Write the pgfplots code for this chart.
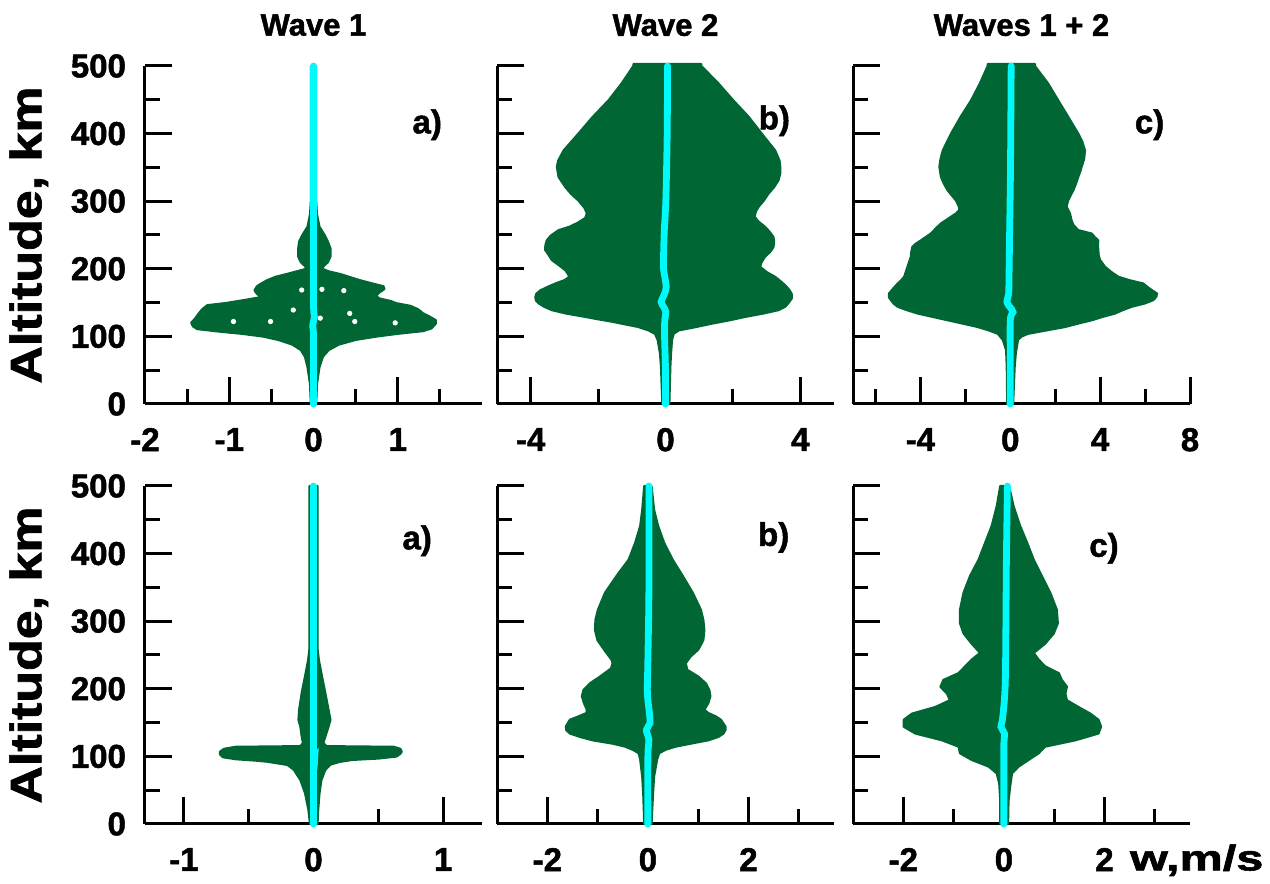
\documentclass[border=0pt]{standalone}
\usepackage{fontspec}
\setmainfont{Liberation Sans}[BoldFeatures={FakeBold=1.5}]
\usepackage{pgfplots}
\pgfplotsset{compat=1.18}
\definecolor{wgreen}{RGB}{0,102,51}
\definecolor{wcyan}{RGB}{0,250,250}
\newcommand{\tfont}{\bfseries\fontsize{15.5}{15.5}\selectfont}
\newcommand{\kfont}{\bfseries\fontsize{16.5}{16.5}\selectfont}
\newcommand{\pfont}{\bfseries\fontsize{16.5}{16.5}\selectfont}
\pgfplotsset{
 panel/.style={
  scale only axis, width=168.5pt, height=169pt, anchor=south west,
  axis x line=bottom, axis y line=left,
  axis line style={-, line width=1.5pt, black},
  every tick/.style={black, line width=1.5pt},
  tick align=inside, major tick length=13.5pt, minor tick length=7.5pt,
  ymin=0, ymax=500, ytick={0,100,200,300,400,500}, minor ytick={50,150,250,350,450},
  clip=false,
  ticklabel style={font=\kfont},
  /pgf/number format/assume math mode=true,
  xticklabel style={yshift=-8.5pt},
  yticklabel style={xshift=-6pt},
 },
 noy/.style={yticklabels={,,,,,}},
 env/.style={fill=wgreen, draw=wgreen, line width=1.2pt, line join=round},
 cline/.style={wcyan, line width=3.4pt, line cap=round, smooth},
}
\begin{document}
\begin{tikzpicture}
\useasboundingbox (0,0) rectangle (635pt,442pt);
% ---------------- Row 1, col 1 : Wave 1
\begin{axis}[panel, at={(72.5pt,240pt)}, xmin=-2, xmax=2,
  xtick={-2,-1,0,1}, minor xtick={-1.5,-0.5,0.5,1.5}]
\addplot[env] coordinates {(0.03,0) (0.04,30) (0.07,55) (0.11,70) (0.18,80) (0.3,88) (0.5,95) (0.75,100) (1.0,104) (1.3,108) (1.4,112) (1.45,119) (1.45,124) (1.38,129) (1.3,134) (1.24,140) (1.15,145) (0.98,149) (0.92,152) (0.78,156) (0.74,160) (0.78,165) (0.84,170) (0.83,174) (0.7,178) (0.55,183) (0.42,188) (0.32,192) (0.18,196) (0.1,200) (0.12,204) (0.17,210) (0.2,218) (0.2,230) (0.17,240) (0.13,250) (0.07,262) (0.04,280) (0.03,300) (0.03,500)
 (-0.03,500) (-0.03,300) (-0.04,280) (-0.07,262) (-0.13,250) (-0.17,240) (-0.18,230) (-0.18,218) (-0.15,210) (-0.1,204) (-0.08,200) (-0.2,196) (-0.32,192) (-0.45,188) (-0.55,183) (-0.62,178) (-0.67,174) (-0.7,168) (-0.67,163) (-0.62,158) (-0.85,153) (-1.05,149) (-1.26,146) (-1.32,140) (-1.36,134) (-1.4,127) (-1.45,120) (-1.43,115) (-1.38,111) (-1.1,107) (-0.85,104) (-0.6,100) (-0.42,95) (-0.25,88) (-0.15,80) (-0.1,70) (-0.07,55) (-0.04,30) (-0.03,0)} -- cycle;
\addplot[only marks, mark=*, mark size=1.1pt, white] coordinates {(-0.14,168.6) (0.10,169.6) (0.36,167.7) (-0.24,139) (0.43,134) (0.49,122) (-0.51,122) (-0.95,122) (0.97,120) (0.08,127)};
\addplot[cline] coordinates {(0,0) (0,100) (-0.01,115) (0.01,130) (0,150) (0,300) (0,500)};
\node[font=\pfont] at (axis cs:1.35,413) {a)};
\node[font=\tfont] at (axis description cs:0.5,1.121) {Wave 1};
\node[rotate=90, font=\bfseries\fontsize{22}{22}\selectfont] at (axis description cs:-0.345,0.5) {\scalebox{1.18}[1]{Altitude, km}};
\end{axis}
% ---------------- Row 1, col 2 : Wave 2
\begin{axis}[panel, noy, at={(248.5pt,240pt)}, xmin=-5, xmax=5,
  xtick={-4,0,4}, minor xtick={-2,2}]
\addplot[env] coordinates {(0.11,0) (0.14,55) (0.16,75) (0.19,95) (0.24,104) (0.39,109) (0.9,114) (1.37,119) (1.9,124) (2.36,129) (2.9,134) (3.35,139) (3.55,144) (3.64,149) (3.74,156) (3.74,163) (3.68,168) (3.6,173) (3.45,180) (3.25,188) (3.0,195) (2.8,203) (2.85,210) (2.95,218) (3.1,225) (3.2,232) (3.22,240) (3.2,247) (3.08,255) (2.95,262) (2.75,270) (2.64,277) (2.68,285) (2.76,292) (2.9,300) (3.05,311) (3.22,321) (3.35,331) (3.4,341) (3.4,351) (3.38,360) (3.25,375) (2.85,400) (2.46,425) (2.01,449) (1.57,474) (1.06,500) (1.06,503)
 (-0.95,503) (-0.95,500) (-1.3,474) (-1.69,449) (-2.15,425) (-2.58,400) (-3.02,375) (-3.18,360) (-3.22,351) (-3.17,336) (-2.97,321) (-2.8,311) (-2.58,301) (-2.4,290) (-2.33,282) (-2.38,275) (-2.6,268) (-2.85,262) (-3.17,257) (-3.4,249) (-3.52,242) (-3.56,235) (-3.57,228) (-3.47,221) (-3.37,213) (-3.15,205) (-2.97,198) (-2.9,193) (-2.85,188) (-3.0,183) (-3.27,178) (-3.5,173) (-3.71,168) (-3.83,163) (-3.86,158) (-3.84,153) (-3.76,149) (-3.6,144) (-3.37,139) (-2.95,134) (-2.38,129) (-1.95,125) (-1.59,122) (-1.2,118) (-0.8,114) (-0.5,109) (-0.31,104) (-0.23,95) (-0.16,75) (-0.13,55) (-0.09,0)} -- cycle;
\addplot[cline] coordinates {(0,0) (0,50) (-0.03,104) (-0.02,125) (0.01,136) (-0.06,144) (-0.13,151) (-0.03,163) (0.02,173) (-0.02,188) (-0.06,203) (-0.04,252) (0.01,301) (0.05,400) (0.06,500)};
\node[font=\pfont] at (axis cs:3.23,419) {b)};
\node[font=\tfont] at (axis description cs:0.5,1.121) {Wave 2};
\end{axis}
% ---------------- Row 1, col 3 : Waves 1 + 2
\begin{axis}[panel, noy, at={(426.5pt,240pt)}, xmin=-7, xmax=8,
  xtick={-4,0,4,8}, minor xtick={-6,-2,2,6}]
\addplot[env] coordinates {(0.12,0) (0.19,55) (0.24,75) (0.34,95) (0.5,100) (0.79,104) (1.6,109) (2.43,114) (3.0,119) (3.62,124) (4.1,129) (4.66,134) (5.0,139) (5.4,144) (6.0,149) (6.37,154) (6.5,159) (6.52,163.5) (6.29,168.5) (6.1,173) (5.92,178) (5.3,183) (4.81,188) (4.5,195) (4.21,203) (4.1,208) (3.99,213) (3.93,220) (3.91,228) (3.9,236) (3.91,242) (3.75,247) (3.62,252) (3.02,257) (2.8,265) (2.72,272) (2.65,282) (2.5,292) (2.57,301) (2.7,310) (2.8,316) (2.92,326) (3.02,336) (3.12,345) (3.17,351) (3.28,362) (3.32,375) (3.2,388) (3.02,400) (2.57,425) (2.13,449) (1.68,474) (1.09,500) (1.09,503)
 (-1.0,503) (-1.0,500) (-1.35,474) (-1.74,449) (-2.2,425) (-2.63,400) (-3.0,375) (-3.1,362) (-3.15,351) (-3.08,336) (-2.95,326) (-2.78,316) (-2.41,301) (-2.28,292) (-2.26,287) (-2.4,282) (-2.63,277) (-2.85,272) (-3.08,267) (-3.3,260) (-3.53,252) (-3.75,247) (-3.97,242) (-4.2,237) (-4.35,232.5) (-4.4,225) (-4.42,218) (-4.5,210) (-4.57,203) (-4.65,195) (-4.72,188) (-4.85,183) (-5.01,178) (-5.2,171) (-5.39,163.5) (-5.4,158) (-5.31,154) (-5.2,149) (-5.01,144) (-4.6,139) (-4.12,134) (-3.45,129) (-2.78,124) (-2.1,119) (-1.44,114) (-0.95,109) (-0.55,104) (-0.33,95) (-0.18,80) (-0.15,55) (-0.13,0)} -- cycle;
\addplot[cline] coordinates {(0,0) (0,60) (0,124) (0.12,136) (-0.03,144) (-0.15,151) (-0.07,163) (-0.06,178) (-0.03,250) (0.01,350) (0.04,500)};
\node[font=\pfont] at (axis cs:6.2,413) {c)};
\node[font=\tfont] at (axis description cs:0.5,1.121) {Waves 1 + 2};
\end{axis}
% ---------------- Row 2, col 1
\begin{axis}[panel, at={(72.5pt,30pt)}, xmin=-1.3, xmax=1.3,
  xtick={-1,0,1}, minor xtick={-0.5,0.5}]
\addplot[env] coordinates {(0.03,0) (0.035,20) (0.045,45) (0.06,65) (0.09,80) (0.13,88) (0.2,92) (0.3,95) (0.5,97) (0.64,100) (0.67,104) (0.68,107) (0.67,111) (0.62,114) (0.1,115) (0.075,120) (0.09,129) (0.115,144) (0.13,154) (0.115,169) (0.09,194) (0.065,218) (0.04,243) (0.03,260) (0.03,500)
 (-0.03,500) (-0.03,260) (-0.04,243) (-0.065,218) (-0.09,194) (-0.11,169) (-0.115,154) (-0.1,144) (-0.09,129) (-0.08,120) (-0.1,115) (-0.6,114) (-0.69,111) (-0.72,107) (-0.72,103) (-0.7,99) (-0.6,96) (-0.45,94) (-0.36,92.4) (-0.28,90) (-0.2,87.5) (-0.15,80) (-0.1,65) (-0.064,45.5) (-0.038,20.8) (-0.026,0)} -- cycle;
\addplot[cline] coordinates {(0,0) (0,90) (0.01,100) (0,110) (0,500)};
\node[font=\pfont] at (axis cs:0.8,419) {a)};
\node[rotate=90, font=\bfseries\fontsize{22}{22}\selectfont] at (axis description cs:-0.345,0.5) {\scalebox{1.18}[1]{Altitude, km}};
\end{axis}
% ---------------- Row 2, col 2
\begin{axis}[panel, noy, at={(248.5pt,30pt)}, xmin=-3, xmax=3.7,
  xtick={-2,0,2}, minor xtick={-1,1,3}]
\addplot[env] coordinates {(0.07,0) (0.1,45) (0.12,70) (0.18,95) (0.22,104.7) (0.35,110) (0.55,114.6) (0.85,119) (1.2,124) (1.4,129) (1.5,134) (1.54,139) (1.54,144) (1.45,154) (1.35,159) (1.2,164) (1.12,169) (1.2,179) (1.24,189) (1.22,198) (1.15,208) (1.0,218) (0.78,228) (0.75,238) (0.85,248) (1.0,258) (1.1,272) (1.12,287) (1.1,302) (1.05,317) (0.89,342) (0.69,367) (0.49,391) (0.32,416) (0.2,441) (0.12,465) (0.07,500)
 (-0.07,500) (-0.11,465) (-0.15,441) (-0.25,416) (-0.38,391) (-0.62,367) (-0.85,342) (-0.99,317) (-1.04,302) (-1.05,287) (-1.0,272) (-0.87,258) (-0.72,243) (-0.7,238) (-0.73,230) (-0.95,218) (-1.15,208) (-1.28,198) (-1.31,189) (-1.27,179) (-1.21,169) (-1.22,164) (-1.38,159) (-1.55,154) (-1.63,144) (-1.62,139) (-1.55,134) (-1.35,129) (-1.1,124) (-0.7,119) (-0.45,114.6) (-0.3,110) (-0.18,104.7) (-0.15,95) (-0.11,70) (-0.09,45) (-0.07,0)} -- cycle;
\addplot[cline] coordinates {(0,0) (0,100) (0.02,124) (-0.03,139) (0.04,149) (0.03,164) (-0.01,194) (0,243) (0.02,342) (0.02,500)};
\node[font=\pfont] at (axis cs:2.5,424) {b)};
\end{axis}
% ---------------- Row 2, col 3
\begin{axis}[panel, noy, at={(426.5pt,30pt)}, xmin=-3, xmax=3.7,
  xtick={-2,0,2}, minor xtick={-1,1,3}]
\addplot[env] coordinates {(0.08,0) (0.09,35) (0.13,60) (0.16,75) (0.29,85) (0.49,95) (0.69,104.7) (0.82,114.6) (1.42,124) (1.88,134) (1.93,144) (1.88,154) (1.72,163) (1.48,173) (1.25,183) (1.22,193) (1.25,203) (1.15,213) (1.09,223) (0.82,233) (0.69,243) (0.59,253) (0.82,267) (0.99,282) (1.07,297) (1.05,317) (0.92,342) (0.75,367) (0.59,391) (0.46,416) (0.32,441) (0.19,470) (0.1,500)
 (-0.07,500) (-0.14,470) (-0.24,441) (-0.37,416) (-0.5,391) (-0.67,367) (-0.8,342) (-0.87,317) (-0.87,297) (-0.8,282) (-0.64,267) (-0.47,253) (-0.64,243) (-0.77,233) (-0.9,223) (-1.2,213) (-1.26,203) (-1.13,193) (-1.07,183) (-1.36,173) (-1.83,163) (-1.99,154) (-1.99,144) (-1.76,134) (-1.23,124) (-0.9,114.6) (-0.87,104.7) (-0.64,95) (-0.3,85) (-0.14,75) (-0.09,60) (-0.07,35) (-0.07,0)} -- cycle;
\addplot[cline] coordinates {(0,0) (0,100) (0,120) (0.01,134) (-0.06,144) (-0.03,154) (0.01,184) (0.03,218) (0.04,292) (0.05,391) (0.07,500)};
\node[font=\pfont] at (axis cs:1.99,408) {c)};
\node[font=\bfseries\fontsize{18}{18}\selectfont] at (axis description cs:1.02,-0.107) {\scalebox{1.35}[1]{w,m/s}};
\end{axis}
\end{tikzpicture}
\end{document}
